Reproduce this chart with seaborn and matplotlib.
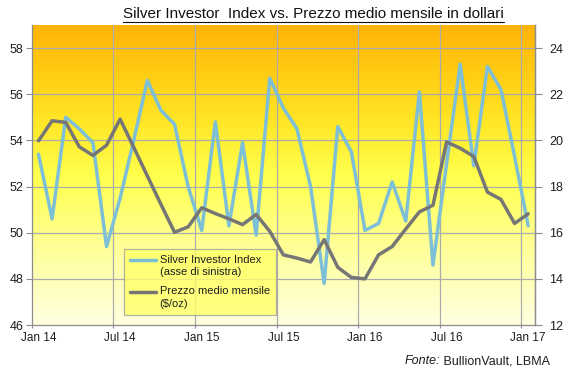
import numpy as np
import pandas as pd
import matplotlib
matplotlib.use("Agg")
import matplotlib.pyplot as plt
from matplotlib.colors import LinearSegmentedColormap
from matplotlib.lines import Line2D
import seaborn as sns

months = ["Jan 14", "Feb 14", "Mar 14", "Apr 14", "May 14", "Jun 14",
          "Jul 14", "Aug 14", "Sep 14", "Oct 14", "Nov 14", "Dec 14",
          "Jan 15", "Feb 15", "Mar 15", "Apr 15", "May 15", "Jun 15",
          "Jul 15", "Aug 15", "Sep 15", "Oct 15", "Nov 15", "Dec 15",
          "Jan 16", "Feb 16", "Mar 16", "Apr 16", "May 16", "Jun 16",
          "Jul 16", "Aug 16", "Sep 16", "Oct 16", "Nov 16", "Dec 16",
          "Jan 17"]
silver_index = [53.4, 50.6, 55.0, 54.5, 53.9, 49.4, 51.5, 54.0, 56.6, 55.3,
                54.7, 52.0, 50.1, 54.8, 50.3, 53.9, 49.9, 56.7, 55.4, 54.5,
                52.0, 47.8, 54.6, 53.5, 50.1, 50.4, 52.2, 50.5, 56.1, 48.6,
                53.0, 57.3, 52.9, 57.2, 56.2, 53.3, 50.3]
price = [19.98, 20.85, 20.78, 19.72, 19.35, 19.79, 20.92, 19.70, 18.46, 17.23,
         16.02, 16.25, 17.08, 16.83, 16.60, 16.35, 16.79, 16.06, 15.04, 14.90,
         14.73, 15.70, 14.50, 14.06, 14.00, 15.04, 15.40, 16.16, 16.90, 17.19,
         19.93, 19.66, 19.30, 17.76, 17.44, 16.40, 16.82]
xtick_labels = ["Jan 14", "Jul 14", "Jan 15", "Jul 15", "Jan 16", "Jul 16", "Jan 17"]
left_ticks = [46, 48, 50, 52, 54, 56, 58]
right_ticks = [12, 14, 16, 18, 20, 22, 24]

title = "Silver Investor  Index vs. Prezzo medio mensile in dollari"
label_sii = "Silver Investor Index\n(asse di sinistra)"
label_price = "Prezzo medio mensile\n(\\$/oz)"

df = pd.DataFrame({"month": months, "idx": np.arange(len(months)),
                   "sii": silver_index, "price": price})

sns.set_theme(style="white")
plt.rcParams["font.family"] = ["Liberation Sans", "DejaVu Sans"]

fig = plt.figure(figsize=(5.7, 3.72), dpi=100)
ax = fig.add_axes([31.7 / 570, 1 - 325 / 372, (535 - 31.7) / 570, 300 / 372])
ax2 = ax.twinx()

# background gradient
cmap = LinearSegmentedColormap.from_list(
    "bg", [(0.0, "#FFFFE2"), (0.25, "#FFFF9A"), (0.5, "#FFFF4C"),
           (0.68, "#FFE626"), (0.85, "#FFCB12"), (1.0, "#FFB308")])
grad = np.linspace(0, 1, 256).reshape(-1, 1)
ax.imshow(grad, aspect="auto", cmap=cmap, origin="lower",
          extent=(0, 1, 0, 1), transform=ax.transAxes, zorder=0)

blue = "#7DBFD6"
grey = "#767676"
lw = 2.5
sns.lineplot(data=df, x="idx", y="sii", ax=ax, color=blue, linewidth=lw,
             label=label_sii, legend=False, zorder=3)
sns.lineplot(data=df, x="idx", y="price", ax=ax2, color=grey, linewidth=lw,
             label=label_price, legend=False, zorder=3)

n = len(months)
ax.set_xlim(-0.5, n - 0.5)
ax.set_ylim(46, 59)
ax2.set_ylim(12, 25)
ax.set_yticks(left_ticks)
ax2.set_yticks(right_ticks)
ax.set_yticklabels([str(v) for v in left_ticks])
ax2.set_yticklabels([str(v) for v in right_ticks])

bounds = np.arange(-0.5, n, 6)
ax.set_xticks(bounds)
ax.set_xticklabels([""] * len(bounds))
centers = [months.index(m) for m in xtick_labels]
ax.set_xticks(centers, minor=True)
ax.set_xticklabels(xtick_labels, minor=True)
ax.set_xlabel("")
ax.set_ylabel("")
ax2.set_ylabel("")

gridc = "#ABABAB"
for v in left_ticks[1:]:
    ax.axhline(v, color=gridc, lw=0.9, zorder=1)
for b in bounds[1:]:
    ax.axvline(b, color=gridc, lw=0.9, zorder=1)

for a in (ax, ax2):
    a.spines["top"].set_visible(False)
    for s in ("left", "right", "bottom"):
        a.spines[s].set_color("#8C8C8C")
        a.spines[s].set_linewidth(0.9)
ax2.spines["left"].set_visible(False)
ax2.spines["bottom"].set_visible(False)

tc = "#1E1E1E"
ax.tick_params(axis="y", which="major", length=4, width=0.8, color="#8C8C8C",
               labelsize=9, labelcolor=tc, pad=2, left=True, direction="out")
ax2.tick_params(axis="y", which="major", length=5, width=0.8, color="#8C8C8C",
                labelsize=9, labelcolor=tc, pad=5, right=True, direction="out")
ax.tick_params(axis="x", which="major", length=4, width=0.8, color="#8C8C8C",
               bottom=True, direction="inout")
ax.tick_params(axis="x", which="minor", length=0, labelsize=8.5,
               labelcolor=tc, pad=5, bottom=True)

ax.set_zorder(1)
ax2.set_zorder(2)
ax2.patch.set_visible(False)

fs = 8
handles = [Line2D([], [], color=blue, lw=lw), Line2D([], [], color=grey, lw=lw)]
leg = ax2.legend(handles, [label_sii, label_price],
                 loc="upper left", bbox_to_anchor=(123.5 / 570, 1 - 248.5 / 372),
                 bbox_transform=fig.transFigure, frameon=True, fancybox=False,
                 fontsize=fs, handlelength=2.4, handletextpad=0.3,
                 labelspacing=0.85, borderpad=0.55, borderaxespad=0)
leg.get_frame().set_facecolor("#FFFF6A")
leg.get_frame().set_edgecolor("#A0A0A0")
leg.get_frame().set_linewidth(0.9)
for t in leg.get_texts():
    t.set_color(tc)
    t.set_linespacing(1.3)

ttl = fig.text(313.5 / 570, 1 - 13.5 / 372, title, ha="center", va="center",
               fontsize=11, color="#111111")

src = fig.text(550 / 570, 1 - 361 / 372, "Fonte:", ha="right", va="center",
               fontsize=9, color=tc, style="italic")
rest = fig.text(550 / 570, 1 - 361 / 372, " BullionVault, LBMA", ha="right",
                va="center", fontsize=9, color=tc)
fig.canvas.draw()
r = fig.canvas.get_renderer()
bb_rest = rest.get_window_extent(r)
src.set_position((bb_rest.x0 / fig.bbox.width, 1 - 361 / 372))

# align legend handles with the first line of their label
for hl, t in zip(leg.get_lines(), leg.get_texts()):
    tb = t.get_window_extent(r)
    lb = hl.get_window_extent(r)
    target = tb.y1 - tb.height / 4.0
    cur = (lb.y0 + lb.y1) / 2.0
    dy_pt = (target - cur) * 72.0 / fig.dpi
    hl.set_ydata(np.asarray(hl.get_ydata()) + dy_pt)

bb = ttl.get_window_extent(r)
fig.add_artist(Line2D([bb.x0 / fig.bbox.width, bb.x1 / fig.bbox.width],
                      [(bb.y0 - 1.0) / fig.bbox.height] * 2,
                      transform=fig.transFigure, color="#111111", lw=0.8))

fig.savefig("out.png", dpi=100, facecolor="white")
